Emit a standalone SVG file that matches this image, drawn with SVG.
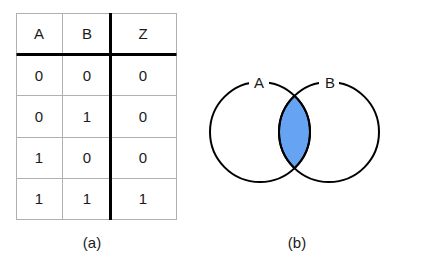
<svg xmlns="http://www.w3.org/2000/svg" width="422" height="262" viewBox="0 0 422 262">
<style>
.grid{stroke:#b0b0b0;stroke-width:1;fill:none}
.thick{stroke:#000;stroke-width:3;fill:none}
.t{font-family:"Liberation Sans",Arial,sans-serif;font-size:15px;fill:#1a1a1a;text-anchor:middle}
.c{fill:none;stroke:#000;stroke-width:2}
</style>
<rect width="422" height="262" fill="#fff"/>
<g id="table">
<rect class="grid" x="16.5" y="13.5" width="160" height="206"/>
<line class="grid" x1="62.5" y1="13.5" x2="62.5" y2="219.5"/>
<line class="grid" x1="16.5" y1="95.5" x2="176.5" y2="95.5"/>
<line class="grid" x1="16.5" y1="137.5" x2="176.5" y2="137.5"/>
<line class="grid" x1="16.5" y1="178.5" x2="176.5" y2="178.5"/>
<line class="thick" x1="16.5" y1="54.5" x2="176.5" y2="54.5"/>
<line class="thick" x1="110.5" y1="13" x2="110.5" y2="220"/>
<text class="t" x="39" y="39">A</text><text class="t" x="87" y="39">B</text><text class="t" x="143" y="39">Z</text>
<text class="t" x="39" y="81">0</text><text class="t" x="87" y="81">0</text><text class="t" x="143" y="81">0</text>
<text class="t" x="39" y="122">0</text><text class="t" x="87" y="122">1</text><text class="t" x="143" y="122">0</text>
<text class="t" x="39" y="163">1</text><text class="t" x="87" y="163">0</text><text class="t" x="143" y="163">0</text>
<text class="t" x="39" y="204">1</text><text class="t" x="87" y="204">1</text><text class="t" x="143" y="204">1</text>
</g>
<g id="venn">
<path d="M294.5 95.8 A50 50 0 0 1 294.5 168.2 A50 50 0 0 1 294.5 95.8 Z" fill="#66a3f2" stroke="#000" stroke-width="2"/>
<circle class="c" cx="260" cy="132" r="50"/>
<circle class="c" cx="329" cy="132" r="50"/>
<rect x="249" y="74" width="20" height="16" fill="#fff"/>
<rect x="319" y="74" width="20" height="16" fill="#fff"/>
<text class="t" x="259" y="88">A</text>
<text class="t" x="330" y="88">B</text>
</g>
<text class="t" x="92" y="248">(a)</text>
<text class="t" x="297" y="248">(b)</text>
</svg>
